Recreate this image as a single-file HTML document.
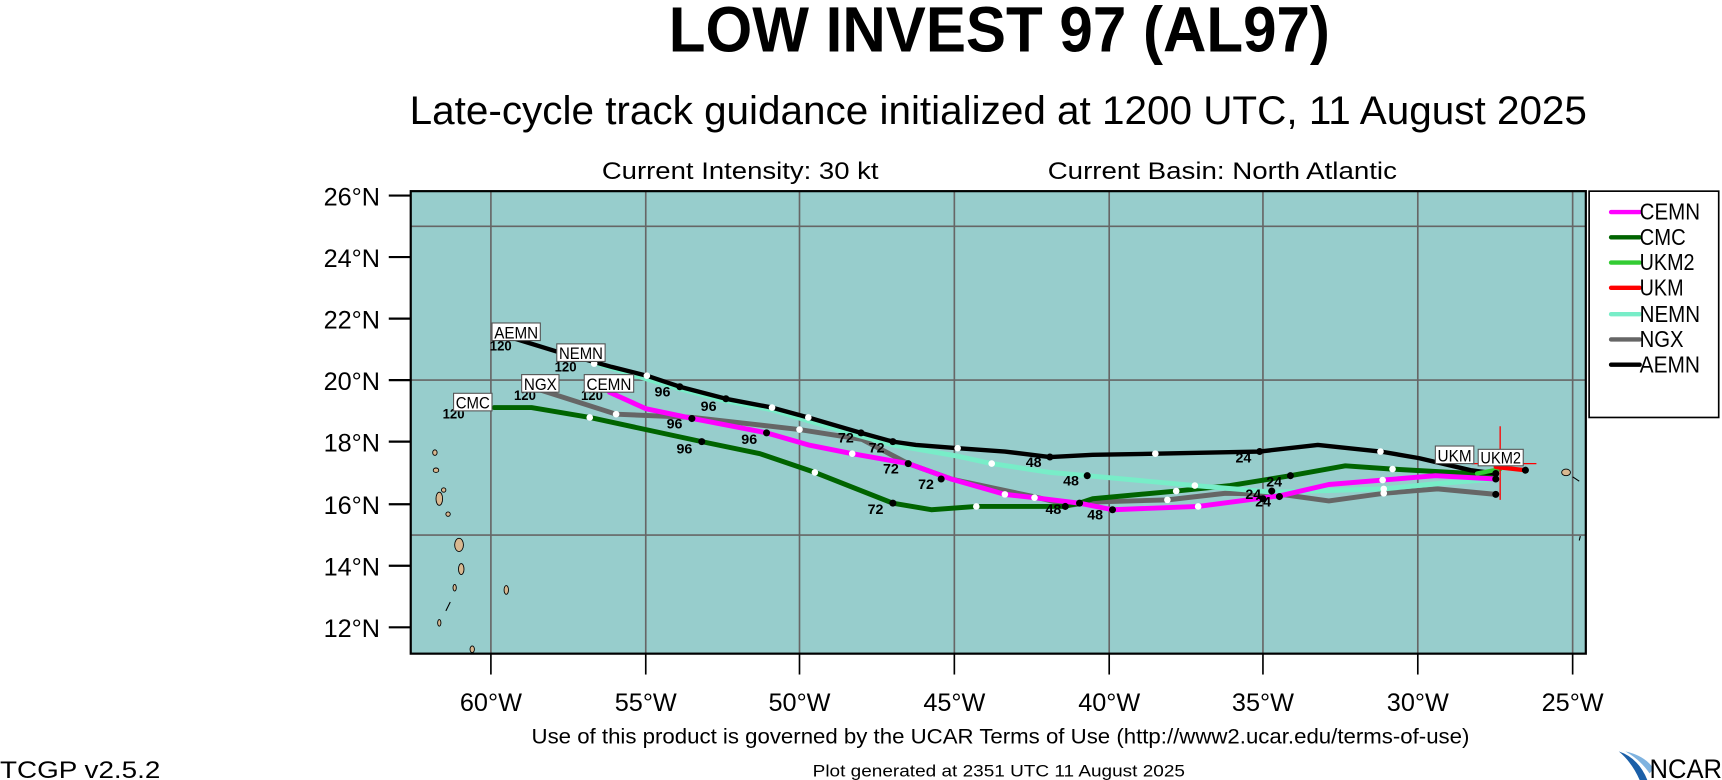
<!DOCTYPE html>
<html><head><meta charset="utf-8"><style>
html,body{margin:0;padding:0;background:#fff;width:1722px;height:780px;overflow:hidden}
svg{display:block;font-family:"Liberation Sans",Arial,sans-serif}
</style></head><body>
<svg width="1722" height="780" viewBox="0 0 1568 710" preserveAspectRatio="none" xmlns="http://www.w3.org/2000/svg">
<rect width="1568" height="710" fill="#fff"/>
<text x="609" y="47" font-size="58" font-weight="bold" textLength="602" lengthAdjust="spacingAndGlyphs">LOW INVEST 97 (AL97)</text>
<text x="373" y="113" font-size="36" textLength="1072" lengthAdjust="spacingAndGlyphs">Late-cycle track guidance initialized at 1200 UTC, 11 August 2025</text>
<text x="548" y="163" font-size="22" textLength="252" lengthAdjust="spacingAndGlyphs">Current Intensity: 30 kt</text>
<text x="954" y="163" font-size="22" textLength="318" lengthAdjust="spacingAndGlyphs">Current Basin: North Atlantic</text>

<rect x="374" y="174" width="1070" height="421" fill="#97cdcc"/>
<g stroke="#666" stroke-width="1.5">
<line x1="447" y1="174" x2="447" y2="595"/><line x1="588" y1="174" x2="588" y2="595"/>
<line x1="728" y1="174" x2="728" y2="595"/><line x1="869" y1="174" x2="869" y2="595"/>
<line x1="1010" y1="174" x2="1010" y2="595"/><line x1="1150" y1="174" x2="1150" y2="595"/>
<line x1="1291" y1="174" x2="1291" y2="595"/><line x1="1432" y1="174" x2="1432" y2="595"/>
<line x1="374" y1="206" x2="1444" y2="206"/><line x1="374" y1="346" x2="1444" y2="346"/>
<line x1="374" y1="487" x2="1444" y2="487"/>
</g>
<g fill="#d8b890" stroke="#000" stroke-width="0.8">
<ellipse cx="396" cy="412" rx="2" ry="2.5"/><ellipse cx="397" cy="428" rx="2.5" ry="2"/>
<ellipse cx="400" cy="454" rx="3" ry="6"/><ellipse cx="404" cy="446" rx="2" ry="2"/><ellipse cx="408" cy="468" rx="2" ry="2"/>
<ellipse cx="418" cy="496" rx="4" ry="6"/><ellipse cx="420" cy="518" rx="2.5" ry="5"/>
<ellipse cx="461" cy="537" rx="2" ry="4"/><ellipse cx="414" cy="535" rx="1.5" ry="3"/>
<ellipse cx="400" cy="567" rx="1.5" ry="3"/><ellipse cx="430" cy="591" rx="2" ry="3"/>
<ellipse cx="1426" cy="430" rx="4" ry="3"/>
</g>
<g stroke="#000" stroke-width="1" fill="none"><path d="M410 548 L406 556 M1432 434 l6 4 M1439 488 l-1 4"/></g>

<g fill="none" stroke-linejoin="round" stroke-linecap="round">
<polyline stroke="#666" stroke-width="4.5" points="492,355 561,377 631,380 728,391 785,400 827,422 866,436 941,452 974,460 995,457 1063,455 1116,449 1167,450 1210,456 1260,449 1309,445 1362,450"/>
<polyline stroke="#006400" stroke-width="4.5" points="450,371 484,371 537,380 639,402 692,413 742,430 813,458 848,464 889,461 968,461 983,458 995,454 1071,447 1120,442 1175,433 1225,424 1268,427 1358,432"/>
<polyline stroke="#78edc8" stroke-width="4.5" points="541,330 589,345 619,354 661,365 703,373 736,383 784,397 813,405 871,415 903,422 956,430 990,433 1088,442 1159,448 1260,445 1311,440 1362,436"/>
<polyline stroke="#000" stroke-width="4" points="468,308 507,320 557,334 589,342 619,352 661,363 703,371 736,380 784,394 813,402 834,405 872,408 915,411 956,416 995,414 1052,413 1147,411 1200,405 1257,411 1292,417 1339,428 1362,431"/>
<polyline stroke="#ff00ff" stroke-width="4.5" points="555,357 588,372 631,381 698,394 736,405 776,413 827,422 866,436 915,450 942,453 983,458 1013,464 1091,461 1167,451 1210,441 1259,437 1307,433 1362,436"/>
<polyline stroke="#33cc33" stroke-width="4" points="1345,431 1366,427"/>
<polyline stroke="#ff0000" stroke-width="4" points="1362,425 1389,428"/>
</g>
<g stroke="#ff0000" stroke-width="1.2"><line x1="1366" y1="388" x2="1366" y2="455"/><line x1="1340" y1="422" x2="1399" y2="422"/></g>

<g fill="#000">
<circle cx="619" cy="352" r="3.2"/><circle cx="661" cy="363" r="3.2"/><circle cx="630" cy="381" r="3.2"/>
<circle cx="698" cy="394" r="3.2"/><circle cx="639" cy="402" r="3.2"/><circle cx="784" cy="394" r="3.2"/>
<circle cx="813" cy="402" r="3.2"/><circle cx="827" cy="422" r="3.2"/><circle cx="857" cy="436" r="3.2"/>
<circle cx="813" cy="458" r="3.2"/><circle cx="956" cy="416" r="3.2"/><circle cx="990" cy="433" r="3.2"/>
<circle cx="970" cy="461" r="3.2"/><circle cx="983" cy="458" r="3.2"/><circle cx="1013" cy="464" r="3.2"/>
<circle cx="1147" cy="411" r="3.2"/><circle cx="1175" cy="433" r="3.2"/><circle cx="1158" cy="447" r="3.2"/>
<circle cx="1165" cy="452" r="3.2"/><circle cx="1150" cy="454" r="3.2"/><circle cx="1362" cy="431" r="3.2"/>
<circle cx="1362" cy="436" r="3.2"/><circle cx="1362" cy="450" r="3.2"/><circle cx="1389" cy="428" r="3.2"/>
</g>
<g fill="#fff">
<circle cx="589" cy="342" r="3"/><circle cx="541" cy="331" r="3"/><circle cx="703" cy="371" r="3"/><circle cx="736" cy="380" r="3"/>
<circle cx="537" cy="380" r="3"/><circle cx="561" cy="377" r="3"/><circle cx="728" cy="391" r="3"/><circle cx="742" cy="430" r="3"/>
<circle cx="776" cy="413" r="3"/><circle cx="872" cy="408" r="3"/><circle cx="903" cy="422" r="3"/><circle cx="915" cy="450" r="3"/>
<circle cx="942" cy="453" r="3"/><circle cx="889" cy="461" r="3"/><circle cx="1052" cy="413" r="3"/><circle cx="1088" cy="442" r="3"/>
<circle cx="1071" cy="447" r="3"/><circle cx="1063" cy="455" r="3"/><circle cx="1091" cy="461" r="3"/><circle cx="1257" cy="411" r="3"/>
<circle cx="1268" cy="427" r="3"/><circle cx="1259" cy="437" r="3"/><circle cx="1260" cy="445" r="3"/><circle cx="1260" cy="449" r="3"/>
</g>

<g font-size="13" font-weight="bold" fill="#000">
<text x="446" y="319" textLength="20" lengthAdjust="spacingAndGlyphs">120</text><text x="505" y="338" textLength="20" lengthAdjust="spacingAndGlyphs">120</text><text x="468" y="364" textLength="20" lengthAdjust="spacingAndGlyphs">120</text><text x="529" y="364" textLength="20" lengthAdjust="spacingAndGlyphs">120</text><text x="403" y="381" textLength="20" lengthAdjust="spacingAndGlyphs">120</text>
<text x="596" y="361">96</text><text x="638" y="374">96</text><text x="607" y="390">96</text><text x="675" y="404">96</text><text x="616" y="413">96</text>
<text x="763" y="403">72</text><text x="791" y="412">72</text><text x="804" y="431">72</text><text x="836" y="445">72</text><text x="790" y="468">72</text>
<text x="934" y="425">48</text><text x="968" y="442">48</text><text x="952" y="468">48</text><text x="990" y="473">48</text>
<text x="1125" y="421">24</text><text x="1153" y="443">24</text><text x="1134" y="454">24</text><text x="1143" y="461">24</text>
</g>
<g font-size="15" fill="#000">
<rect x="448" y="294" width="44" height="16" fill="#fff" stroke="#555"/><text x="450" y="308" textLength="40" lengthAdjust="spacingAndGlyphs">AEMN</text>
<rect x="507" y="313" width="44" height="16" fill="#fff" stroke="#555"/><text x="509" y="327" textLength="40" lengthAdjust="spacingAndGlyphs">NEMN</text>
<rect x="475" y="341" width="34" height="16" fill="#fff" stroke="#555"/><text x="477" y="355" textLength="30" lengthAdjust="spacingAndGlyphs">NGX</text>
<rect x="532" y="341" width="45" height="16" fill="#fff" stroke="#555"/><text x="534" y="355" textLength="41" lengthAdjust="spacingAndGlyphs">CEMN</text>
<rect x="413" y="358" width="35" height="16" fill="#fff" stroke="#555"/><text x="415" y="372" textLength="31" lengthAdjust="spacingAndGlyphs">CMC</text>
<rect x="1307" y="406" width="35" height="16" fill="#fff" stroke="#555"/><text x="1309" y="420" textLength="31" lengthAdjust="spacingAndGlyphs">UKM</text>
<rect x="1346" y="409" width="41" height="15" fill="#fff" stroke="#555"/><text x="1348" y="422" textLength="37" lengthAdjust="spacingAndGlyphs">UKM2</text>
</g>

<rect x="374" y="174" width="1070" height="421" fill="none" stroke="#000" stroke-width="2"/>
<g stroke="#000" stroke-width="2">
<line x1="354" y1="178" x2="374" y2="178"/><line x1="354" y1="234" x2="374" y2="234"/><line x1="354" y1="290" x2="374" y2="290"/>
<line x1="354" y1="346" x2="374" y2="346"/><line x1="354" y1="402" x2="374" y2="402"/><line x1="354" y1="459" x2="374" y2="459"/>
<line x1="354" y1="515" x2="374" y2="515"/><line x1="354" y1="571" x2="374" y2="571"/>
</g>
<g font-size="23" text-anchor="end">
<text x="346" y="187">26°N</text><text x="346" y="243">24°N</text><text x="346" y="299">22°N</text><text x="346" y="355">20°N</text>
<text x="346" y="411">18°N</text><text x="346" y="468">16°N</text><text x="346" y="524">14°N</text><text x="346" y="580">12°N</text>
</g>
<g stroke="#000" stroke-width="1.5">
<line x1="447" y1="595" x2="447" y2="614"/><line x1="588" y1="595" x2="588" y2="614"/><line x1="728" y1="595" x2="728" y2="614"/>
<line x1="869" y1="595" x2="869" y2="614"/><line x1="1010" y1="595" x2="1010" y2="614"/><line x1="1150" y1="595" x2="1150" y2="614"/>
<line x1="1291" y1="595" x2="1291" y2="614"/><line x1="1432" y1="595" x2="1432" y2="614"/>
</g>
<g font-size="23" text-anchor="middle">
<text x="447" y="647">60°W</text><text x="588" y="647">55°W</text><text x="728" y="647">50°W</text><text x="869" y="647">45°W</text>
<text x="1010" y="647">40°W</text><text x="1150" y="647">35°W</text><text x="1291" y="647">30°W</text><text x="1432" y="647">25°W</text>
</g>

<rect x="1447" y="174" width="118" height="206" fill="#fff" stroke="#000" stroke-width="1.5"/>
<g stroke-width="4" stroke-linecap="round">
<line x1="1467" y1="193" x2="1493" y2="193" stroke="#ff00ff"/>
<line x1="1467" y1="216" x2="1493" y2="216" stroke="#006400"/>
<line x1="1467" y1="239" x2="1493" y2="239" stroke="#33cc33"/>
<line x1="1467" y1="262" x2="1493" y2="262" stroke="#ff0000"/>
<line x1="1467" y1="286" x2="1493" y2="286" stroke="#78edc8"/>
<line x1="1467" y1="309" x2="1493" y2="309" stroke="#666"/>
<line x1="1467" y1="332" x2="1493" y2="332" stroke="#000"/>
</g>
<g font-size="21">
<text x="1493" y="200" textLength="55" lengthAdjust="spacingAndGlyphs">CEMN</text><text x="1493" y="223" textLength="42" lengthAdjust="spacingAndGlyphs">CMC</text><text x="1493" y="246" textLength="50" lengthAdjust="spacingAndGlyphs">UKM2</text><text x="1493" y="269" textLength="40" lengthAdjust="spacingAndGlyphs">UKM</text>
<text x="1493" y="293" textLength="55" lengthAdjust="spacingAndGlyphs">NEMN</text><text x="1493" y="316" textLength="40" lengthAdjust="spacingAndGlyphs">NGX</text><text x="1493" y="339" textLength="55" lengthAdjust="spacingAndGlyphs">AEMN</text>
</g>

<text x="484" y="677" font-size="19" textLength="854" lengthAdjust="spacingAndGlyphs">Use of this product is governed by the UCAR Terms of Use (http://www2.ucar.edu/terms-of-use)</text>
<text x="0" y="708" font-size="22" textLength="146" lengthAdjust="spacingAndGlyphs">TCGP v2.5.2</text>
<text x="740" y="707" font-size="15" textLength="339" lengthAdjust="spacingAndGlyphs">Plot generated at 2351 UTC   11 August 2025</text>
<path d="M1474 684 Q1492 690 1500 710 L1493 710 Q1486 694 1474 684 Z" fill="#1a5fa8"/>
<path d="M1480 684 Q1498 688 1506 700 L1502 704 Q1494 692 1480 684 Z" fill="#7fb3e0"/>
<text x="1502" y="708" font-size="24" textLength="66" lengthAdjust="spacingAndGlyphs">NCAR</text>
</svg>
</body></html>
